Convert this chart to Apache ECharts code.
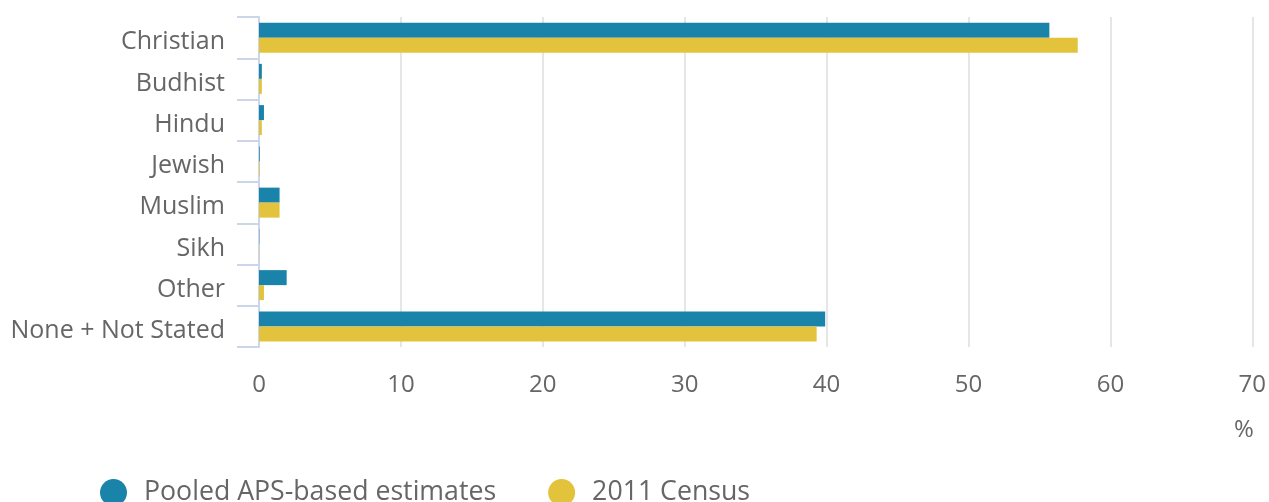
<!DOCTYPE html>
<html><head><meta charset="utf-8">
<script src="https://cdn.jsdelivr.net/npm/echarts@6/dist/echarts.min.js"></script>
<style>html,body{margin:0;padding:0;background:#fff}#c{width:1269px;height:502px}</style>
</head><body><div id="c"></div>
<script>
var categories = ["Christian","Budhist","Hindu","Jewish","Muslim","Sikh","Other","None + Not Stated"];
var apsValues = [55.7, 0.2, 0.35, 0.05, 1.45, 0.02, 1.95, 39.9];
var censusValues = [57.7, 0.2, 0.2, 0.05, 1.45, 0.02, 0.35, 39.3];
var xTicks = [0, 10, 20, 30, 40, 50, 60, 70];
var seriesNames = ["Pooled APS-based estimates", "2011 Census"];

var FONT = "'Open Sans', sans-serif";
var chart = echarts.init(document.getElementById('c'));
chart.setOption({
  animation: false,
  textStyle: {fontFamily: FONT},
  title: {text: '%', left: 1229, top: 413, textStyle: {fontFamily: FONT, fontSize: 24, fontWeight: 'normal', color: '#666'}},
  grid: {left: 259, right: 14, top: 17, bottom: 155, containLabel: false},
  legend: {
    left: 95, top: 474, icon: 'circle', itemWidth: 27, itemHeight: 27, itemGap: 52,
    textStyle: {fontFamily: FONT, fontSize: 26.7, color: '#666', padding: [2, 0, 0, 12]},
    data: seriesNames
  },
  xAxis: {
    type: 'value', min: xTicks[0], max: xTicks[xTicks.length - 1], interval: 10,
    axisLine: {show: false}, axisTick: {show: false},
    axisLabel: {fontFamily: FONT, fontSize: 24, color: '#666', margin: 26},
    splitLine: {lineStyle: {color: '#e6e6e6', width: 2}}
  },
  yAxis: {
    type: 'category', data: categories, inverse: true,
    axisLine: {lineStyle: {color: '#ccd6eb', width: 2}},
    axisTick: {show: true, length: 22, lineStyle: {color: '#ccd6eb', width: 2}},
    axisLabel: {fontFamily: FONT, fontSize: 25, color: '#666', margin: 34,
      verticalAlign: 'top', lineHeight: 9}
  },
  series: [
    {name: seriesNames[0], type: 'bar', data: apsValues, barWidth: 15, barGap: '0%',
     itemStyle: {color: '#1a83a9'}},
    {name: seriesNames[1], type: 'bar', data: censusValues, barWidth: 15, barGap: '0%',
     itemStyle: {color: '#e3c33b'}}
  ]
});
</script></body></html>
